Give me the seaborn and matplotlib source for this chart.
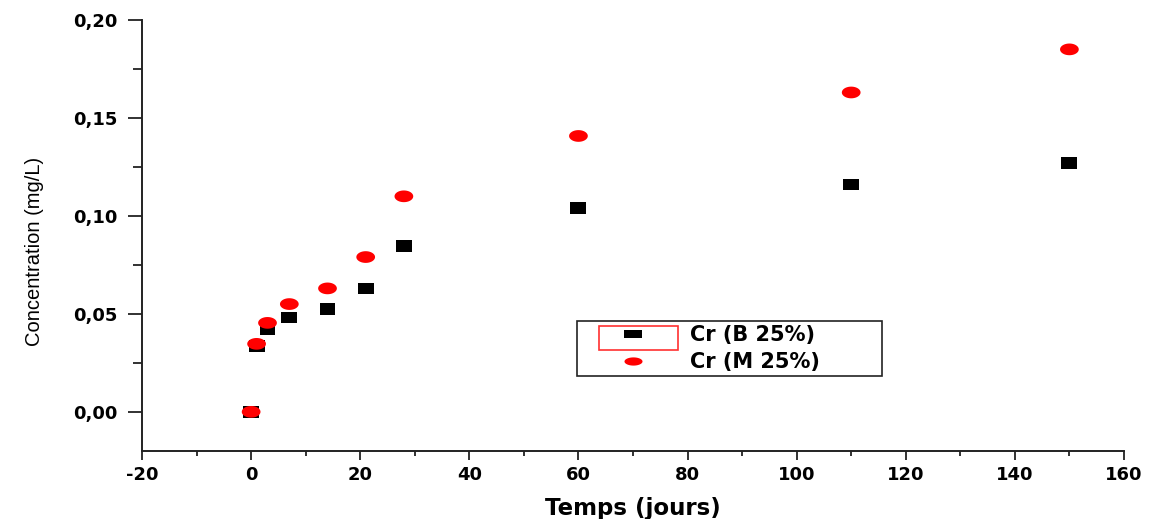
import numpy as np
import pandas as pd
import matplotlib
matplotlib.use("Agg")
import matplotlib.pyplot as plt
from matplotlib.path import Path
from matplotlib.patches import Rectangle
from matplotlib.lines import Line2D
from matplotlib.ticker import MultipleLocator, FuncFormatter
import seaborn as sns

# Leaching time (days) and chromium concentration (mg/L)
days = [0, 1, 3, 7, 14, 21, 28, 60, 110, 150]
cr_b25 = [0.000, 0.0337, 0.042, 0.048, 0.0525, 0.063, 0.0847, 0.104, 0.116, 0.127]
cr_m25 = [0.000, 0.0347, 0.0454, 0.055, 0.063, 0.079, 0.110, 0.1408, 0.163, 0.185]
series_labels = ["Cr (B 25%)", "Cr (M 25%)"]
x_ticks = [-20, 0, 20, 40, 60, 80, 100, 120, 140, 160]
y_ticks = [0.00, 0.05, 0.10, 0.15, 0.20]

df = pd.DataFrame({"days": days, "b25": cr_b25, "m25": cr_m25})

sns.set_style("ticks")
plt.rcParams["font.family"] = ["DejaVu Sans"]
plt.rcParams["axes.unicode_minus"] = False
plt.rcParams["text.color"] = "black"
plt.rcParams["axes.labelcolor"] = "black"
plt.rcParams["xtick.color"] = "#222222"
plt.rcParams["ytick.color"] = "#222222"
plt.rcParams["xtick.labelcolor"] = "black"
plt.rcParams["ytick.labelcolor"] = "black"


def rect_path(aspect):
    return Path([(-aspect, -1.0), (aspect, -1.0), (aspect, 1.0), (-aspect, 1.0), (-aspect, -1.0)],
                [Path.MOVETO, Path.LINETO, Path.LINETO, Path.LINETO, Path.CLOSEPOLY])


def ellipse_path(aspect):
    theta = np.linspace(0, 2 * np.pi, 41)
    return Path(np.column_stack([aspect * np.cos(theta), np.sin(theta)]), closed=True)


fig, ax = plt.subplots(figsize=(11.51, 5.19), dpi=100)
fig.subplots_adjust(left=0.1234, right=0.9765, top=0.9615, bottom=0.131)

sns.scatterplot(data=df, x="days", y="b25", ax=ax, marker=rect_path(1.4), s=11.5 ** 2,
                color="black", edgecolor="none", linewidth=0, zorder=3, legend=False)
sns.scatterplot(data=df, x="days", y="m25", ax=ax, marker=ellipse_path(1.6), s=13.5 ** 2,
                color="#ff0000", edgecolor="none", linewidth=0, zorder=4, legend=False)

ax.set_xlim(-20, 160)
ax.set_ylim(-0.02, 0.20)
ax.set_xticks(x_ticks)
ax.set_yticks(y_ticks)
ax.xaxis.set_minor_locator(MultipleLocator(10))
ax.yaxis.set_minor_locator(MultipleLocator(0.025))
ax.yaxis.set_major_formatter(FuncFormatter(lambda v, p: f"{v:.2f}".replace(".", ",")))

sns.despine(ax=ax)
for side in ("left", "bottom"):
    ax.spines[side].set_linewidth(1.4)
    ax.spines[side].set_color("#222222")

ax.tick_params(axis="y", which="major", length=10, width=1.3, pad=8)
ax.tick_params(axis="y", which="minor", length=6.5, width=1.3)
ax.tick_params(axis="x", which="major", length=6.5, width=1.3, pad=4)
ax.tick_params(axis="x", which="minor", length=3.5, width=1.3)
for lab in ax.get_xticklabels() + ax.get_yticklabels():
    lab.set_fontsize(13)
    lab.set_fontweight("bold")

ax.set_xlabel("Temps (jours)", fontsize=16.5, fontweight="bold", labelpad=10)
ax.set_ylabel("Concentration (mg/L)", fontsize=14.5, family=["Liberation Sans"])
ax.yaxis.set_label_coords(-0.100, 0.464)

handles = [
    Line2D([], [], linestyle="none", marker=rect_path(2.1), markersize=12.5,
           markerfacecolor="black", markeredgewidth=0),
    Line2D([], [], linestyle="none", marker=ellipse_path(2.2), markersize=13,
           markerfacecolor="#ff0000", markeredgewidth=0),
]
leg = ax.legend(handles, series_labels, loc="upper left",
                bbox_to_anchor=(0.443, 0.167, 0.3106, 0.135), mode="expand",
                prop={"weight": "bold", "size": 15}, frameon=True, fancybox=False,
                framealpha=1, edgecolor="#222222", borderaxespad=0, borderpad=0.2,
                handlelength=5.0, handletextpad=0.2, labelspacing=0.35)
leg.get_frame().set_linewidth(1.2)

# selection box around the first legend symbol
fig.add_artist(Rectangle((0.5204, 0.3256), 0.0686, 0.0462, transform=fig.transFigure,
                         fill=False, edgecolor="#ff3030", linewidth=1.2, zorder=10))

fig.savefig("out.png", dpi=100)
